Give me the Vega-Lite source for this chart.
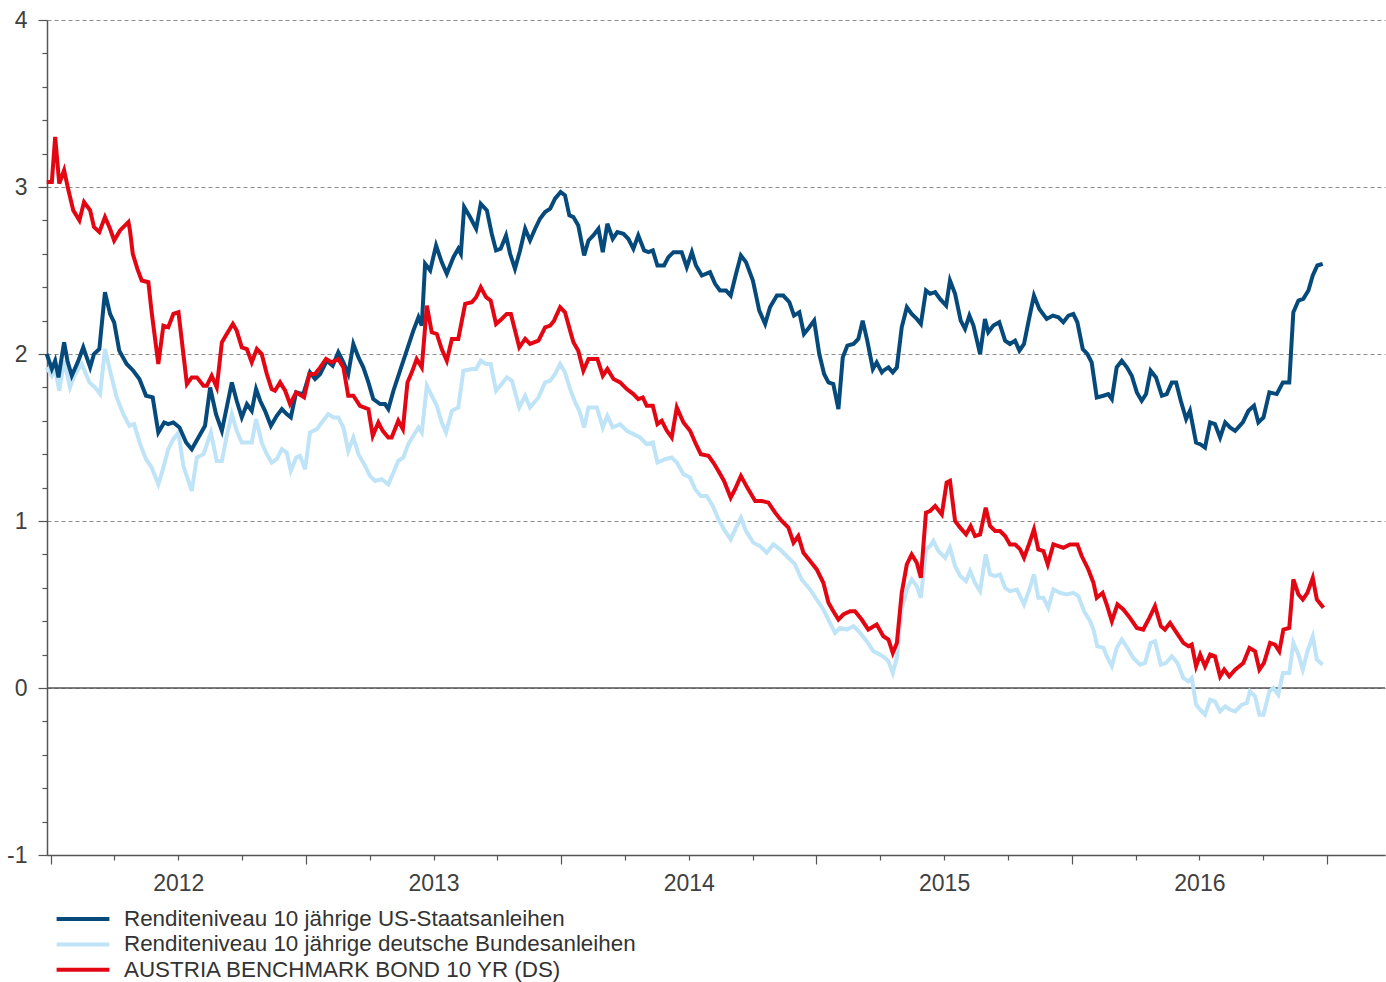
{
"$schema":"https://vega.github.io/schema/vega-lite/v6.json",
"width":1338,"height":835,"autosize":"none",
"padding":{"left":47,"top":20,"right":1,"bottom":127},
"background":"white",
"datasets":{
"us":[{"year":2011.985,"yield":2.00},{"year":2012.005,"yield":1.91},{"year":2012.018,"yield":1.96},{"year":2012.031,"yield":1.86},{"year":2012.053,"yield":2.07},{"year":2012.066,"yield":1.96},{"year":2012.083,"yield":1.87},{"year":2012.109,"yield":1.96},{"year":2012.128,"yield":2.04},{"year":2012.155,"yield":1.92},{"year":2012.170,"yield":2.00},{"year":2012.191,"yield":2.03},{"year":2012.213,"yield":2.37},{"year":2012.233,"yield":2.24},{"year":2012.249,"yield":2.19},{"year":2012.269,"yield":2.02},{"year":2012.298,"yield":1.94},{"year":2012.324,"yield":1.90},{"year":2012.348,"yield":1.85},{"year":2012.374,"yield":1.75},{"year":2012.400,"yield":1.74},{"year":2012.422,"yield":1.53},{"year":2012.445,"yield":1.59},{"year":2012.461,"yield":1.58},{"year":2012.481,"yield":1.59},{"year":2012.505,"yield":1.56},{"year":2012.531,"yield":1.47},{"year":2012.553,"yield":1.43},{"year":2012.579,"yield":1.50},{"year":2012.605,"yield":1.57},{"year":2012.625,"yield":1.80},{"year":2012.648,"yield":1.64},{"year":2012.671,"yield":1.54},{"year":2012.690,"yield":1.68},{"year":2012.710,"yield":1.83},{"year":2012.729,"yield":1.72},{"year":2012.749,"yield":1.62},{"year":2012.769,"yield":1.70},{"year":2012.788,"yield":1.66},{"year":2012.805,"yield":1.79},{"year":2012.821,"yield":1.72},{"year":2012.840,"yield":1.66},{"year":2012.863,"yield":1.57},{"year":2012.886,"yield":1.63},{"year":2012.906,"yield":1.67},{"year":2012.925,"yield":1.64},{"year":2012.941,"yield":1.62},{"year":2012.962,"yield":1.77},{"year":2012.990,"yield":1.76},{"year":2013.016,"yield":1.89},{"year":2013.036,"yield":1.85},{"year":2013.056,"yield":1.88},{"year":2013.082,"yield":1.96},{"year":2013.105,"yield":1.93},{"year":2013.127,"yield":2.01},{"year":2013.147,"yield":1.95},{"year":2013.166,"yield":1.88},{"year":2013.186,"yield":2.06},{"year":2013.206,"yield":1.98},{"year":2013.225,"yield":1.92},{"year":2013.245,"yield":1.83},{"year":2013.264,"yield":1.73},{"year":2013.291,"yield":1.70},{"year":2013.310,"yield":1.70},{"year":2013.323,"yield":1.67},{"year":2013.343,"yield":1.78},{"year":2013.369,"yield":1.90},{"year":2013.395,"yield":2.02},{"year":2013.421,"yield":2.14},{"year":2013.441,"yield":2.22},{"year":2013.454,"yield":2.17},{"year":2013.467,"yield":2.54},{"year":2013.487,"yield":2.50},{"year":2013.510,"yield":2.65},{"year":2013.532,"yield":2.55},{"year":2013.552,"yield":2.48},{"year":2013.578,"yield":2.58},{"year":2013.597,"yield":2.63},{"year":2013.607,"yield":2.60},{"year":2013.620,"yield":2.88},{"year":2013.643,"yield":2.82},{"year":2013.667,"yield":2.75},{"year":2013.685,"yield":2.90},{"year":2013.709,"yield":2.86},{"year":2013.728,"yield":2.72},{"year":2013.745,"yield":2.62},{"year":2013.763,"yield":2.63},{"year":2013.784,"yield":2.71},{"year":2013.800,"yield":2.60},{"year":2013.819,"yield":2.51},{"year":2013.839,"yield":2.62},{"year":2013.859,"yield":2.75},{"year":2013.878,"yield":2.68},{"year":2013.898,"yield":2.75},{"year":2013.917,"yield":2.81},{"year":2013.937,"yield":2.85},{"year":2013.957,"yield":2.87},{"year":2013.976,"yield":2.93},{"year":2013.998,"yield":2.97},{"year":2014.015,"yield":2.95},{"year":2014.032,"yield":2.83},{"year":2014.048,"yield":2.82},{"year":2014.067,"yield":2.77},{"year":2014.090,"yield":2.59},{"year":2014.107,"yield":2.68},{"year":2014.126,"yield":2.71},{"year":2014.146,"yield":2.75},{"year":2014.163,"yield":2.61},{"year":2014.181,"yield":2.78},{"year":2014.202,"yield":2.69},{"year":2014.220,"yield":2.73},{"year":2014.244,"yield":2.72},{"year":2014.263,"yield":2.69},{"year":2014.283,"yield":2.63},{"year":2014.302,"yield":2.71},{"year":2014.325,"yield":2.62},{"year":2014.342,"yield":2.61},{"year":2014.359,"yield":2.62},{"year":2014.377,"yield":2.53},{"year":2014.403,"yield":2.53},{"year":2014.420,"yield":2.58},{"year":2014.440,"yield":2.61},{"year":2014.472,"yield":2.61},{"year":2014.492,"yield":2.52},{"year":2014.512,"yield":2.61},{"year":2014.528,"yield":2.53},{"year":2014.551,"yield":2.47},{"year":2014.583,"yield":2.49},{"year":2014.603,"yield":2.42},{"year":2014.622,"yield":2.38},{"year":2014.646,"yield":2.38},{"year":2014.664,"yield":2.35},{"year":2014.685,"yield":2.48},{"year":2014.704,"yield":2.59},{"year":2014.724,"yield":2.55},{"year":2014.751,"yield":2.44},{"year":2014.776,"yield":2.26},{"year":2014.799,"yield":2.18},{"year":2014.818,"yield":2.28},{"year":2014.845,"yield":2.35},{"year":2014.870,"yield":2.35},{"year":2014.894,"yield":2.31},{"year":2014.912,"yield":2.23},{"year":2014.933,"yield":2.25},{"year":2014.951,"yield":2.12},{"year":2014.972,"yield":2.16},{"year":2014.991,"yield":2.20},{"year":2015.011,"yield":2.00},{"year":2015.030,"yield":1.88},{"year":2015.047,"yield":1.83},{"year":2015.066,"yield":1.82},{"year":2015.086,"yield":1.67},{"year":2015.103,"yield":1.98},{"year":2015.121,"yield":2.05},{"year":2015.145,"yield":2.06},{"year":2015.164,"yield":2.09},{"year":2015.181,"yield":2.20},{"year":2015.199,"yield":2.08},{"year":2015.221,"yield":1.91},{"year":2015.236,"yield":1.95},{"year":2015.256,"yield":1.89},{"year":2015.262,"yield":1.90},{"year":2015.282,"yield":1.92},{"year":2015.299,"yield":1.89},{"year":2015.315,"yield":1.92},{"year":2015.334,"yield":2.16},{"year":2015.354,"yield":2.28},{"year":2015.373,"yield":2.24},{"year":2015.393,"yield":2.21},{"year":2015.409,"yield":2.18},{"year":2015.429,"yield":2.38},{"year":2015.445,"yield":2.36},{"year":2015.465,"yield":2.37},{"year":2015.484,"yield":2.33},{"year":2015.508,"yield":2.29},{"year":2015.523,"yield":2.44},{"year":2015.543,"yield":2.36},{"year":2015.565,"yield":2.20},{"year":2015.582,"yield":2.15},{"year":2015.599,"yield":2.23},{"year":2015.615,"yield":2.17},{"year":2015.641,"yield":2.00},{"year":2015.660,"yield":2.21},{"year":2015.673,"yield":2.13},{"year":2015.693,"yield":2.17},{"year":2015.716,"yield":2.19},{"year":2015.739,"yield":2.08},{"year":2015.758,"yield":2.06},{"year":2015.778,"yield":2.08},{"year":2015.795,"yield":2.02},{"year":2015.813,"yield":2.06},{"year":2015.834,"yield":2.22},{"year":2015.852,"yield":2.35},{"year":2015.873,"yield":2.27},{"year":2015.902,"yield":2.21},{"year":2015.926,"yield":2.23},{"year":2015.948,"yield":2.22},{"year":2015.967,"yield":2.19},{"year":2015.987,"yield":2.23},{"year":2016.006,"yield":2.24},{"year":2016.022,"yield":2.19},{"year":2016.043,"yield":2.03},{"year":2016.061,"yield":2.00},{"year":2016.078,"yield":1.95},{"year":2016.098,"yield":1.74},{"year":2016.124,"yield":1.75},{"year":2016.143,"yield":1.76},{"year":2016.157,"yield":1.73},{"year":2016.176,"yield":1.92},{"year":2016.196,"yield":1.96},{"year":2016.216,"yield":1.92},{"year":2016.235,"yield":1.87},{"year":2016.255,"yield":1.77},{"year":2016.274,"yield":1.72},{"year":2016.291,"yield":1.76},{"year":2016.309,"yield":1.90},{"year":2016.330,"yield":1.86},{"year":2016.353,"yield":1.75},{"year":2016.372,"yield":1.76},{"year":2016.392,"yield":1.83},{"year":2016.409,"yield":1.83},{"year":2016.427,"yield":1.72},{"year":2016.448,"yield":1.61},{"year":2016.463,"yield":1.66},{"year":2016.487,"yield":1.47},{"year":2016.503,"yield":1.46},{"year":2016.522,"yield":1.44},{"year":2016.542,"yield":1.59},{"year":2016.561,"yield":1.58},{"year":2016.581,"yield":1.50},{"year":2016.601,"yield":1.59},{"year":2016.620,"yield":1.56},{"year":2016.640,"yield":1.54},{"year":2016.670,"yield":1.59},{"year":2016.692,"yield":1.66},{"year":2016.714,"yield":1.69},{"year":2016.731,"yield":1.59},{"year":2016.751,"yield":1.62},{"year":2016.774,"yield":1.77},{"year":2016.803,"yield":1.76},{"year":2016.827,"yield":1.83},{"year":2016.852,"yield":1.83},{"year":2016.868,"yield":2.25},{"year":2016.888,"yield":2.32},{"year":2016.907,"yield":2.33},{"year":2016.927,"yield":2.38},{"year":2016.944,"yield":2.47},{"year":2016.962,"yield":2.53},{"year":2016.983,"yield":2.54}],
"de":[{"year":2011.985,"yield":1.92},{"year":2012.005,"yield":1.87},{"year":2012.018,"yield":1.91},{"year":2012.034,"yield":1.78},{"year":2012.053,"yield":1.96},{"year":2012.076,"yield":1.80},{"year":2012.096,"yield":1.88},{"year":2012.122,"yield":1.94},{"year":2012.152,"yield":1.83},{"year":2012.174,"yield":1.80},{"year":2012.194,"yield":1.76},{"year":2012.213,"yield":2.03},{"year":2012.236,"yield":1.88},{"year":2012.259,"yield":1.74},{"year":2012.285,"yield":1.64},{"year":2012.309,"yield":1.57},{"year":2012.327,"yield":1.58},{"year":2012.351,"yield":1.46},{"year":2012.374,"yield":1.37},{"year":2012.396,"yield":1.32},{"year":2012.422,"yield":1.22},{"year":2012.442,"yield":1.32},{"year":2012.461,"yield":1.43},{"year":2012.481,"yield":1.49},{"year":2012.501,"yield":1.53},{"year":2012.520,"yield":1.33},{"year":2012.553,"yield":1.18},{"year":2012.573,"yield":1.38},{"year":2012.599,"yield":1.40},{"year":2012.628,"yield":1.53},{"year":2012.651,"yield":1.36},{"year":2012.671,"yield":1.36},{"year":2012.690,"yield":1.51},{"year":2012.710,"yield":1.64},{"year":2012.729,"yield":1.54},{"year":2012.749,"yield":1.47},{"year":2012.769,"yield":1.47},{"year":2012.788,"yield":1.47},{"year":2012.805,"yield":1.61},{"year":2012.827,"yield":1.47},{"year":2012.847,"yield":1.40},{"year":2012.866,"yield":1.35},{"year":2012.886,"yield":1.37},{"year":2012.906,"yield":1.43},{"year":2012.925,"yield":1.41},{"year":2012.941,"yield":1.30},{"year":2012.962,"yield":1.38},{"year":2012.977,"yield":1.39},{"year":2012.997,"yield":1.31},{"year":2013.016,"yield":1.53},{"year":2013.043,"yield":1.55},{"year":2013.062,"yield":1.59},{"year":2013.088,"yield":1.64},{"year":2013.108,"yield":1.62},{"year":2013.127,"yield":1.62},{"year":2013.147,"yield":1.56},{"year":2013.166,"yield":1.42},{"year":2013.186,"yield":1.50},{"year":2013.206,"yield":1.40},{"year":2013.232,"yield":1.33},{"year":2013.251,"yield":1.27},{"year":2013.271,"yield":1.24},{"year":2013.297,"yield":1.25},{"year":2013.323,"yield":1.22},{"year":2013.343,"yield":1.29},{"year":2013.362,"yield":1.36},{"year":2013.382,"yield":1.38},{"year":2013.401,"yield":1.46},{"year":2013.421,"yield":1.51},{"year":2013.441,"yield":1.56},{"year":2013.454,"yield":1.53},{"year":2013.474,"yield":1.81},{"year":2013.493,"yield":1.75},{"year":2013.513,"yield":1.69},{"year":2013.532,"yield":1.59},{"year":2013.549,"yield":1.53},{"year":2013.572,"yield":1.66},{"year":2013.597,"yield":1.68},{"year":2013.617,"yield":1.90},{"year":2013.650,"yield":1.91},{"year":2013.667,"yield":1.91},{"year":2013.685,"yield":1.96},{"year":2013.706,"yield":1.94},{"year":2013.724,"yield":1.94},{"year":2013.745,"yield":1.78},{"year":2013.767,"yield":1.82},{"year":2013.787,"yield":1.86},{"year":2013.807,"yield":1.84},{"year":2013.836,"yield":1.68},{"year":2013.859,"yield":1.75},{"year":2013.878,"yield":1.68},{"year":2013.911,"yield":1.74},{"year":2013.937,"yield":1.83},{"year":2013.957,"yield":1.84},{"year":2013.976,"yield":1.88},{"year":2013.996,"yield":1.94},{"year":2014.015,"yield":1.89},{"year":2014.035,"yield":1.79},{"year":2014.055,"yield":1.71},{"year":2014.071,"yield":1.66},{"year":2014.090,"yield":1.56},{"year":2014.107,"yield":1.68},{"year":2014.140,"yield":1.68},{"year":2014.163,"yield":1.56},{"year":2014.181,"yield":1.63},{"year":2014.202,"yield":1.56},{"year":2014.231,"yield":1.58},{"year":2014.257,"yield":1.54},{"year":2014.283,"yield":1.52},{"year":2014.309,"yield":1.50},{"year":2014.335,"yield":1.46},{"year":2014.359,"yield":1.47},{"year":2014.377,"yield":1.35},{"year":2014.407,"yield":1.37},{"year":2014.433,"yield":1.38},{"year":2014.453,"yield":1.35},{"year":2014.479,"yield":1.28},{"year":2014.505,"yield":1.26},{"year":2014.525,"yield":1.19},{"year":2014.547,"yield":1.15},{"year":2014.570,"yield":1.15},{"year":2014.594,"yield":1.09},{"year":2014.616,"yield":1.01},{"year":2014.638,"yield":0.95},{"year":2014.664,"yield":0.89},{"year":2014.685,"yield":0.96},{"year":2014.704,"yield":1.02},{"year":2014.724,"yield":0.94},{"year":2014.753,"yield":0.87},{"year":2014.779,"yield":0.85},{"year":2014.805,"yield":0.81},{"year":2014.831,"yield":0.86},{"year":2014.857,"yield":0.83},{"year":2014.890,"yield":0.78},{"year":2014.916,"yield":0.74},{"year":2014.942,"yield":0.65},{"year":2014.975,"yield":0.59},{"year":2015.001,"yield":0.53},{"year":2015.027,"yield":0.47},{"year":2015.053,"yield":0.39},{"year":2015.073,"yield":0.33},{"year":2015.092,"yield":0.36},{"year":2015.119,"yield":0.35},{"year":2015.145,"yield":0.37},{"year":2015.171,"yield":0.33},{"year":2015.197,"yield":0.28},{"year":2015.223,"yield":0.22},{"year":2015.249,"yield":0.20},{"year":2015.269,"yield":0.18},{"year":2015.282,"yield":0.16},{"year":2015.299,"yield":0.09},{"year":2015.315,"yield":0.18},{"year":2015.334,"yield":0.47},{"year":2015.354,"yield":0.59},{"year":2015.373,"yield":0.65},{"year":2015.393,"yield":0.61},{"year":2015.409,"yield":0.54},{"year":2015.429,"yield":0.83},{"year":2015.445,"yield":0.85},{"year":2015.458,"yield":0.88},{"year":2015.478,"yield":0.82},{"year":2015.504,"yield":0.78},{"year":2015.523,"yield":0.84},{"year":2015.543,"yield":0.73},{"year":2015.563,"yield":0.67},{"year":2015.586,"yield":0.64},{"year":2015.602,"yield":0.70},{"year":2015.621,"yield":0.63},{"year":2015.641,"yield":0.58},{"year":2015.663,"yield":0.80},{"year":2015.680,"yield":0.68},{"year":2015.700,"yield":0.67},{"year":2015.719,"yield":0.68},{"year":2015.739,"yield":0.60},{"year":2015.758,"yield":0.58},{"year":2015.785,"yield":0.59},{"year":2015.813,"yield":0.50},{"year":2015.834,"yield":0.59},{"year":2015.852,"yield":0.68},{"year":2015.869,"yield":0.54},{"year":2015.889,"yield":0.54},{"year":2015.908,"yield":0.48},{"year":2015.928,"yield":0.59},{"year":2015.954,"yield":0.57},{"year":2015.980,"yield":0.56},{"year":2016.006,"yield":0.57},{"year":2016.026,"yield":0.55},{"year":2016.048,"yield":0.46},{"year":2016.072,"yield":0.40},{"year":2016.085,"yield":0.35},{"year":2016.100,"yield":0.25},{"year":2016.124,"yield":0.24},{"year":2016.137,"yield":0.19},{"year":2016.157,"yield":0.13},{"year":2016.176,"yield":0.24},{"year":2016.196,"yield":0.29},{"year":2016.218,"yield":0.24},{"year":2016.241,"yield":0.18},{"year":2016.268,"yield":0.14},{"year":2016.287,"yield":0.15},{"year":2016.309,"yield":0.27},{"year":2016.326,"yield":0.28},{"year":2016.349,"yield":0.14},{"year":2016.369,"yield":0.15},{"year":2016.392,"yield":0.19},{"year":2016.414,"yield":0.15},{"year":2016.437,"yield":0.06},{"year":2016.457,"yield":0.04},{"year":2016.470,"yield":0.06},{"year":2016.487,"yield":-0.10},{"year":2016.503,"yield":-0.13},{"year":2016.522,"yield":-0.16},{"year":2016.542,"yield":-0.07},{"year":2016.561,"yield":-0.08},{"year":2016.581,"yield":-0.14},{"year":2016.601,"yield":-0.11},{"year":2016.620,"yield":-0.13},{"year":2016.640,"yield":-0.14},{"year":2016.666,"yield":-0.10},{"year":2016.686,"yield":-0.09},{"year":2016.698,"yield":-0.02},{"year":2016.718,"yield":-0.05},{"year":2016.735,"yield":-0.16},{"year":2016.751,"yield":-0.16},{"year":2016.774,"yield":-0.02},{"year":2016.790,"yield":0.00},{"year":2016.809,"yield":-0.04},{"year":2016.827,"yield":0.09},{"year":2016.852,"yield":0.09},{"year":2016.868,"yield":0.27},{"year":2016.888,"yield":0.20},{"year":2016.905,"yield":0.11},{"year":2016.923,"yield":0.22},{"year":2016.944,"yield":0.31},{"year":2016.960,"yield":0.17},{"year":2016.983,"yield":0.14}],
"at":[{"year":2011.985,"yield":3.03},{"year":2012.005,"yield":3.03},{"year":2012.018,"yield":3.30},{"year":2012.034,"yield":3.02},{"year":2012.053,"yield":3.10},{"year":2012.070,"yield":2.98},{"year":2012.089,"yield":2.86},{"year":2012.113,"yield":2.80},{"year":2012.131,"yield":2.91},{"year":2012.155,"yield":2.86},{"year":2012.170,"yield":2.76},{"year":2012.191,"yield":2.73},{"year":2012.213,"yield":2.82},{"year":2012.233,"yield":2.75},{"year":2012.249,"yield":2.68},{"year":2012.272,"yield":2.74},{"year":2012.305,"yield":2.79},{"year":2012.311,"yield":2.74},{"year":2012.322,"yield":2.60},{"year":2012.340,"yield":2.51},{"year":2012.357,"yield":2.44},{"year":2012.383,"yield":2.43},{"year":2012.396,"yield":2.25},{"year":2012.422,"yield":1.94},{"year":2012.442,"yield":2.17},{"year":2012.461,"yield":2.16},{"year":2012.481,"yield":2.24},{"year":2012.501,"yield":2.25},{"year":2012.534,"yield":1.82},{"year":2012.553,"yield":1.86},{"year":2012.573,"yield":1.86},{"year":2012.599,"yield":1.81},{"year":2012.612,"yield":1.81},{"year":2012.631,"yield":1.87},{"year":2012.651,"yield":1.80},{"year":2012.671,"yield":2.07},{"year":2012.690,"yield":2.12},{"year":2012.714,"yield":2.18},{"year":2012.729,"yield":2.14},{"year":2012.749,"yield":2.04},{"year":2012.769,"yield":2.03},{"year":2012.788,"yield":1.95},{"year":2012.808,"yield":2.03},{"year":2012.827,"yield":2.00},{"year":2012.847,"yield":1.88},{"year":2012.866,"yield":1.79},{"year":2012.879,"yield":1.78},{"year":2012.899,"yield":1.83},{"year":2012.919,"yield":1.78},{"year":2012.938,"yield":1.70},{"year":2012.962,"yield":1.77},{"year":2012.993,"yield":1.74},{"year":2013.014,"yield":1.88},{"year":2013.036,"yield":1.88},{"year":2013.056,"yield":1.92},{"year":2013.079,"yield":1.97},{"year":2013.101,"yield":1.95},{"year":2013.127,"yield":1.97},{"year":2013.147,"yield":1.92},{"year":2013.166,"yield":1.75},{"year":2013.186,"yield":1.75},{"year":2013.212,"yield":1.69},{"year":2013.245,"yield":1.67},{"year":2013.262,"yield":1.51},{"year":2013.284,"yield":1.59},{"year":2013.301,"yield":1.54},{"year":2013.323,"yield":1.50},{"year":2013.336,"yield":1.50},{"year":2013.362,"yield":1.60},{"year":2013.380,"yield":1.55},{"year":2013.398,"yield":1.83},{"year":2013.415,"yield":1.89},{"year":2013.434,"yield":1.97},{"year":2013.454,"yield":1.92},{"year":2013.474,"yield":2.29},{"year":2013.493,"yield":2.13},{"year":2013.513,"yield":2.12},{"year":2013.532,"yield":2.03},{"year":2013.552,"yield":1.96},{"year":2013.572,"yield":2.09},{"year":2013.597,"yield":2.09},{"year":2013.624,"yield":2.30},{"year":2013.650,"yield":2.31},{"year":2013.667,"yield":2.34},{"year":2013.685,"yield":2.40},{"year":2013.706,"yield":2.34},{"year":2013.724,"yield":2.32},{"year":2013.745,"yield":2.18},{"year":2013.767,"yield":2.21},{"year":2013.787,"yield":2.24},{"year":2013.803,"yield":2.24},{"year":2013.836,"yield":2.04},{"year":2013.859,"yield":2.09},{"year":2013.878,"yield":2.06},{"year":2013.911,"yield":2.08},{"year":2013.937,"yield":2.16},{"year":2013.957,"yield":2.17},{"year":2013.972,"yield":2.20},{"year":2013.996,"yield":2.28},{"year":2014.015,"yield":2.25},{"year":2014.035,"yield":2.14},{"year":2014.048,"yield":2.07},{"year":2014.067,"yield":2.02},{"year":2014.087,"yield":1.90},{"year":2014.107,"yield":1.97},{"year":2014.142,"yield":1.97},{"year":2014.163,"yield":1.87},{"year":2014.181,"yield":1.91},{"year":2014.205,"yield":1.85},{"year":2014.231,"yield":1.83},{"year":2014.257,"yield":1.79},{"year":2014.283,"yield":1.76},{"year":2014.302,"yield":1.73},{"year":2014.320,"yield":1.74},{"year":2014.335,"yield":1.69},{"year":2014.359,"yield":1.69},{"year":2014.377,"yield":1.58},{"year":2014.394,"yield":1.60},{"year":2014.414,"yield":1.54},{"year":2014.433,"yield":1.50},{"year":2014.453,"yield":1.68},{"year":2014.479,"yield":1.59},{"year":2014.505,"yield":1.54},{"year":2014.525,"yield":1.47},{"year":2014.547,"yield":1.40},{"year":2014.577,"yield":1.39},{"year":2014.596,"yield":1.35},{"year":2014.616,"yield":1.30},{"year":2014.638,"yield":1.24},{"year":2014.664,"yield":1.14},{"year":2014.681,"yield":1.19},{"year":2014.704,"yield":1.27},{"year":2014.729,"yield":1.20},{"year":2014.760,"yield":1.12},{"year":2014.786,"yield":1.12},{"year":2014.812,"yield":1.11},{"year":2014.838,"yield":1.05},{"year":2014.864,"yield":1.00},{"year":2014.890,"yield":0.96},{"year":2014.910,"yield":0.87},{"year":2014.929,"yield":0.91},{"year":2014.949,"yield":0.81},{"year":2014.975,"yield":0.76},{"year":2015.001,"yield":0.71},{"year":2015.027,"yield":0.63},{"year":2015.047,"yield":0.51},{"year":2015.066,"yield":0.46},{"year":2015.086,"yield":0.41},{"year":2015.105,"yield":0.44},{"year":2015.132,"yield":0.46},{"year":2015.151,"yield":0.46},{"year":2015.177,"yield":0.41},{"year":2015.203,"yield":0.35},{"year":2015.236,"yield":0.38},{"year":2015.262,"yield":0.31},{"year":2015.282,"yield":0.29},{"year":2015.299,"yield":0.21},{"year":2015.315,"yield":0.27},{"year":2015.334,"yield":0.57},{"year":2015.354,"yield":0.74},{"year":2015.373,"yield":0.80},{"year":2015.393,"yield":0.75},{"year":2015.409,"yield":0.66},{"year":2015.429,"yield":1.05},{"year":2015.445,"yield":1.06},{"year":2015.465,"yield":1.09},{"year":2015.491,"yield":1.04},{"year":2015.510,"yield":1.23},{"year":2015.523,"yield":1.24},{"year":2015.543,"yield":1.00},{"year":2015.563,"yield":0.96},{"year":2015.586,"yield":0.92},{"year":2015.604,"yield":0.97},{"year":2015.621,"yield":0.91},{"year":2015.641,"yield":0.92},{"year":2015.663,"yield":1.08},{"year":2015.680,"yield":0.97},{"year":2015.700,"yield":0.94},{"year":2015.719,"yield":0.94},{"year":2015.739,"yield":0.91},{"year":2015.758,"yield":0.86},{"year":2015.778,"yield":0.86},{"year":2015.798,"yield":0.83},{"year":2015.813,"yield":0.78},{"year":2015.830,"yield":0.85},{"year":2015.852,"yield":0.95},{"year":2015.869,"yield":0.83},{"year":2015.889,"yield":0.82},{"year":2015.906,"yield":0.74},{"year":2015.928,"yield":0.86},{"year":2015.948,"yield":0.85},{"year":2015.967,"yield":0.84},{"year":2015.993,"yield":0.86},{"year":2016.022,"yield":0.86},{"year":2016.039,"yield":0.79},{"year":2016.065,"yield":0.71},{"year":2016.085,"yield":0.63},{"year":2016.098,"yield":0.54},{"year":2016.121,"yield":0.57},{"year":2016.137,"yield":0.50},{"year":2016.157,"yield":0.40},{"year":2016.179,"yield":0.50},{"year":2016.202,"yield":0.47},{"year":2016.228,"yield":0.42},{"year":2016.255,"yield":0.36},{"year":2016.280,"yield":0.35},{"year":2016.304,"yield":0.42},{"year":2016.326,"yield":0.49},{"year":2016.349,"yield":0.37},{"year":2016.365,"yield":0.35},{"year":2016.385,"yield":0.39},{"year":2016.411,"yield":0.33},{"year":2016.437,"yield":0.27},{"year":2016.457,"yield":0.25},{"year":2016.470,"yield":0.26},{"year":2016.487,"yield":0.13},{"year":2016.503,"yield":0.20},{"year":2016.522,"yield":0.13},{"year":2016.542,"yield":0.20},{"year":2016.561,"yield":0.19},{"year":2016.581,"yield":0.07},{"year":2016.597,"yield":0.11},{"year":2016.617,"yield":0.07},{"year":2016.640,"yield":0.11},{"year":2016.672,"yield":0.15},{"year":2016.696,"yield":0.24},{"year":2016.718,"yield":0.22},{"year":2016.735,"yield":0.11},{"year":2016.753,"yield":0.15},{"year":2016.777,"yield":0.27},{"year":2016.796,"yield":0.26},{"year":2016.813,"yield":0.22},{"year":2016.829,"yield":0.35},{"year":2016.852,"yield":0.36},{"year":2016.868,"yield":0.65},{"year":2016.888,"yield":0.56},{"year":2016.905,"yield":0.53},{"year":2016.923,"yield":0.57},{"year":2016.944,"yield":0.66},{"year":2016.960,"yield":0.53},{"year":2016.986,"yield":0.48}],
"zero":[{"level":0}]
},
"encoding":{
"x":{"field":"year","type":"quantitative","scale":{"domain":[2011.986,2017.227],"nice":false,"zero":false},
"axis":{"title":null,"grid":false,"values":[2012,2012.25,2012.5,2012.75,2013,2013.25,2013.5,2013.75,2014,2014.25,2014.5,2014.75,2015,2015.25,2015.5,2015.75,2016,2016.25,2016.5,2016.75,2017],
"labelExpr":"datum.value % 1 === 0.5 ? '' + floor(datum.value) : ''","labelOverlap":false,"labelFlush":false,
"tickSize":{"condition":{"test":"datum.value % 1 === 0","value":9},"value":5},
"domainColor":"#555555","domainWidth":1.5,"tickColor":"#555555","tickWidth":1.2,
"labelFont":"Liberation Sans","labelFontSize":23,"labelColor":"#404040","labelPadding":12}},
"y":{"field":"yield","type":"quantitative","scale":{"domain":[-1,4],"nice":false,"zero":false},
"axis":{"title":null,"values":[-1,-0.8,-0.6,-0.4,-0.2,0,0.2,0.4,0.6,0.8,1,1.2,1.4,1.6,1.8,2,2.2,2.4,2.6,2.8,3,3.2,3.4,3.6,3.8,4],
"labelExpr":"datum.value % 1 === 0 ? '' + datum.value : ''","labelOverlap":false,"labelFlush":false,
"tickSize":{"condition":{"test":"datum.value % 1 === 0","value":9},"value":5},
"grid":true,"gridColor":"#8c8c8c","gridDash":[4,3],"gridWidth":1,
"gridOpacity":{"condition":{"test":"datum.value % 1 === 0","value":1},"value":0},
"domainColor":"#555555","domainWidth":1.5,"tickColor":"#555555","tickWidth":1.2,
"labelFont":"Liberation Sans","labelFontSize":23,"labelColor":"#404040","labelPadding":11}}
},
"layer":[
{"data":{"name":"zero"},"mark":{"type":"rule","color":"#555555","strokeWidth":1.5},"encoding":{"y":{"field":"level","type":"quantitative"},"x":null}},
{"data":{"name":"de"},"mark":{"type":"line","strokeWidth":4},"encoding":{"color":{"datum":"Renditeniveau 10 jährige deutsche Bundesanleihen","scale":{"domain":["Renditeniveau 10 jährige US-Staatsanleihen","Renditeniveau 10 jährige deutsche Bundesanleihen","AUSTRIA BENCHMARK BOND 10 YR (DS)"],"range":["#064a7c","#bfe4f8","#e30613"]}}}},
{"data":{"name":"us"},"mark":{"type":"line","strokeWidth":4},"encoding":{"color":{"datum":"Renditeniveau 10 jährige US-Staatsanleihen"}}},
{"data":{"name":"at"},"mark":{"type":"line","strokeWidth":4},"encoding":{"color":{"datum":"AUSTRIA BENCHMARK BOND 10 YR (DS)"}}}
],
"resolve":{"scale":{"color":"shared"}},
"config":{"view":{"stroke":null},"font":"Liberation Sans",
"legend":{"orient":"none","legendX":23,"legendY":886,"title":null,"symbolType":"M-2.4,0H2.4","symbolSize":484,"symbolStrokeWidth":4,"labelFont":"Liberation Sans","labelFontSize":22.4,"labelColor":"#333333","labelOffset":28,"rowPadding":0.4,"padding":0,"labelLimit":0}}
}
